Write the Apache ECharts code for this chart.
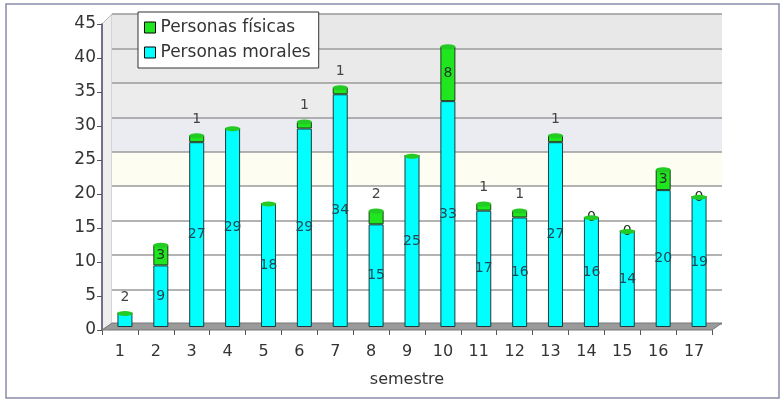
<!DOCTYPE html>
<html>
<head>
<meta charset="utf-8">
<script src="https://cdn.jsdelivr.net/npm/echarts@6/dist/echarts.min.js"></script>
<style>
  html, body { margin: 0; padding: 0; background: #fff; }
  #main { width: 781px; height: 401px; }
</style>
</head>
<body>
<div id="main"></div>
<script>
// datos del grafico
var semestres = ['1', '2', '3', '4', '5', '6', '7', '8', '9', '10', '11', '12', '13', '14', '15', '16', '17'];
var morales = [2, 9, 27, 29, 18, 29, 34, 15, 25, 33, 17, 16, 27, 16, 14, 20, 19];
var fisicas = [0, 3, 1, 0, 0, 1, 1, 2, 0, 8, 1, 1, 1, 0, 0, 3, 0];
// semestres donde el cero de fisicas si aparece
var cerosVisibles = ['14', '15', '17'];

var FONT = 'DejaVu Sans';
var CYAN = '#00ffff';
var GREEN = '#1fe61f';

var totales = morales.map(function (v, i) { return v + fisicas[i]; });

var moralesData = morales.map(function (v) {
    var arriba = v < 5;
    return {
        value: v,
        label: {
            position: arriba ? 'top' : 'inside',
            distance: 9,
            color: arriba ? '#444' : '#1e4a55'
        }
    };
});

var fisicasData = fisicas.map(function (v, i) {
    var mostrar = v > 0 || cerosVisibles.indexOf(semestres[i]) > -1;
    var arriba = v > 0 && v < 3;
    return {
        value: v,
        label: {
            show: mostrar,
            position: arriba ? 'top' : 'inside',
            distance: 9,
            color: arriba ? '#444' : '#243424'
        }
    };
});

var myChart = echarts.init(document.getElementById('main'));

var option = {
    backgroundColor: '#fff',
    animation: false,
    textStyle: { fontFamily: FONT },
    legend: {
        orient: 'vertical',
        left: 138,
        top: 12,
        padding: [7, 8, 7, 6],
        itemGap: 8,
        itemWidth: 11,
        itemHeight: 11,
        icon: 'rect',
        backgroundColor: '#fff',
        borderColor: '#333',
        borderWidth: 1,
        textStyle: { fontFamily: FONT, fontSize: 17, color: '#333' },
        data: [
            { name: 'Personas físicas', itemStyle: { color: GREEN, borderColor: '#000', borderWidth: 1 } },
            { name: 'Personas morales', itemStyle: { color: CYAN, borderColor: '#000', borderWidth: 1 } }
        ]
    },
    grid: [
        // pared del fondo
        { left: 112, right: 59, top: 14, bottom: 77 },
        // ejes del frente
        { left: 102, right: 69, top: 24, bottom: 71 },
        // barras
        { left: 107, right: 64, top: 19, bottom: 74 }
    ],
    xAxis: [
        { gridIndex: 0, type: 'category', data: semestres, show: false },
        {
            gridIndex: 1, type: 'category', data: semestres,
            name: 'semestre', nameLocation: 'middle', nameGap: 42,
            nameTextStyle: { fontFamily: FONT, fontSize: 16, color: '#333' },
            axisLine: { show: false },
            axisTick: { show: true, length: 5, lineStyle: { color: '#555' } },
            axisLabel: { fontFamily: FONT, fontSize: 16, color: '#333', margin: 14 }
        },
        { gridIndex: 2, type: 'category', data: semestres, show: false }
    ],
    yAxis: [
        {
            gridIndex: 0, type: 'value', min: 0, max: 45, interval: 5,
            axisLine: { show: false }, axisTick: { show: false }, axisLabel: { show: false },
            splitLine: { show: true, lineStyle: { color: '#9a9a9a', width: 1.5 } },
            splitArea: {
                show: true,
                areaStyle: {
                    color: ['#ffffff', '#ffffff', '#ffffff', '#ffffff', '#fdfdf2',
                            '#ebebf2', '#ececec', '#eaeaea', '#e8e8e8']
                }
            }
        },
        {
            gridIndex: 1, type: 'value', min: 0, max: 45, interval: 5,
            axisLine: { show: true, lineStyle: { color: '#4c4c70', width: 1.5 } },
            axisTick: { show: true, length: 5, lineStyle: { color: '#555' } },
            axisLabel: { fontFamily: FONT, fontSize: 17, color: '#333', margin: 6 },
            splitLine: { show: false }
        },
        { gridIndex: 2, type: 'value', min: 0, max: 45, interval: 5, show: false, splitLine: { show: false } }
    ],
    graphic: [
        {
            type: 'rect', z: -10, silent: true,
            shape: { x: 6, y: 4, width: 773, height: 394 },
            style: { fill: 'none', stroke: '#8a8aa8', lineWidth: 1.5 }
        },
        {
            // pared izquierda
            type: 'polygon', z: -5, silent: true,
            shape: { points: [[102, 24], [112, 14], [112, 324], [102, 330]] },
            style: { fill: '#eeeeee', stroke: '#bbbbbb', lineWidth: 1 }
        },
        {
            // piso
            type: 'polygon', z: 1, silent: true,
            shape: { points: [[102, 330], [712, 330], [722, 323], [112, 323]] },
            style: { fill: '#9a9a9a', stroke: '#777', lineWidth: 1 }
        }
    ],
    series: [
        {
            name: 'Personas morales',
            type: 'bar',
            xAxisIndex: 2, yAxisIndex: 2,
            stack: 'total',
            barWidth: 15,
            z: 3,
            itemStyle: { color: CYAN, borderColor: '#1c3c3c', borderWidth: 1 },
            label: { show: true, fontFamily: FONT, fontSize: 14 },
            data: moralesData
        },
        {
            name: 'Personas físicas',
            type: 'bar',
            xAxisIndex: 2, yAxisIndex: 2,
            stack: 'total',
            barWidth: 15,
            z: 3,
            itemStyle: { color: GREEN, borderColor: '#1c3c1c', borderWidth: 1 },
            label: { show: true, fontFamily: FONT, fontSize: 14 },
            data: fisicasData
        },
        {
            // tapa de cilindro
            name: 'tapa',
            type: 'pictorialBar',
            xAxisIndex: 2, yAxisIndex: 2,
            symbol: 'circle',
            symbolSize: [15, 5],
            symbolPosition: 'end',
            symbolOffset: [0, '-50%'],
            barWidth: 15,
            z: 4,
            silent: true,
            itemStyle: { color: '#22cc22', borderColor: '#0a3a0a', borderWidth: 1 },
            data: totales
        }
    ]
};

myChart.setOption(option);
</script>
</body>
</html>
